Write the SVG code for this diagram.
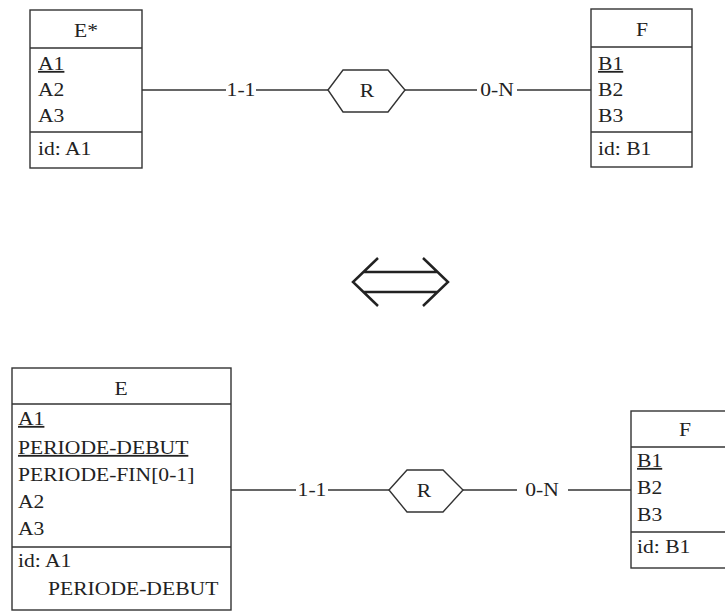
<svg xmlns="http://www.w3.org/2000/svg" width="725" height="611" viewBox="0 0 725 611">
<style>
.box{fill:#fff;stroke:#333;stroke-width:1.4}
.sep{stroke:#333;stroke-width:1.4}
.t{font-family:"Liberation Serif","Times New Roman",serif;font-size:18px;fill:#222}
.c{text-anchor:middle}
.u{text-decoration:underline}
.ln{stroke:#333;stroke-width:1.3;fill:none}
.hex{fill:#fff;stroke:#333;stroke-width:1.4}
</style>
<rect width="725" height="611" fill="#fff"/>
<g id="connectors">
<line class="ln" x1="142" y1="90" x2="226" y2="90"/>
<line class="ln" x1="256" y1="90" x2="328" y2="90"/>
<line class="ln" x1="405" y1="90" x2="477" y2="90"/>
<line class="ln" x1="517" y1="90" x2="591" y2="90"/>
<text class="t c" transform="translate(241,96) scale(1.2 1)">1-1</text>
<text class="t c" transform="translate(497,96) scale(1.2 1)">0-N</text>
<line class="ln" x1="231" y1="490" x2="296" y2="490"/>
<line class="ln" x1="328" y1="490" x2="389" y2="490"/>
<line class="ln" x1="463" y1="490" x2="517" y2="490"/>
<line class="ln" x1="568" y1="490" x2="631" y2="490"/>
<text class="t c" transform="translate(312,496) scale(1.2 1)">1-1</text>
<text class="t c" transform="translate(542,496) scale(1.2 1)">0-N</text>
</g>
<g id="E-star">
<rect class="box" x="30" y="10" width="112" height="158"/>
<line class="sep" x1="30" y1="48" x2="142" y2="48"/>
<line class="sep" x1="30" y1="132" x2="142" y2="132"/>
<text class="t c" transform="translate(86,37) scale(1.2 1)">E*</text>
<text class="t u" transform="translate(38,70) scale(1.2 1)">A1</text>
<text class="t" transform="translate(38,96) scale(1.2 1)">A2</text>
<text class="t" transform="translate(38,122) scale(1.2 1)">A3</text>
<text class="t" transform="translate(38,155) scale(1.2 1)">id: A1</text>
</g>
<g id="R-top">
<polygon class="hex" points="328,90 343,70 388,70 405,90 388,112 343,112"/>
<text class="t c" transform="translate(367,97) scale(1.2 1)">R</text>
</g>
<g id="F-top">
<rect class="box" x="591" y="9" width="101" height="158"/>
<line class="sep" x1="591" y1="47" x2="692" y2="47"/>
<line class="sep" x1="591" y1="132" x2="692" y2="132"/>
<text class="t c" transform="translate(642,36) scale(1.2 1)">F</text>
<text class="t u" transform="translate(598,70) scale(1.2 1)">B1</text>
<text class="t" transform="translate(598,96) scale(1.2 1)">B2</text>
<text class="t" transform="translate(598,122) scale(1.2 1)">B3</text>
<text class="t" transform="translate(598,155) scale(1.2 1)">id: B1</text>
</g>
<g id="equivalence">
<path d="M378,258 L353,282 L378,306 M423,258 L448,282 L423,306 M363,272 L438,272 M363,292 L438,292" fill="none" stroke="#222" stroke-width="2.5" stroke-linejoin="miter"/>
</g>
<g id="E">
<rect class="box" x="12" y="368" width="219" height="242"/>
<line class="sep" x1="12" y1="404" x2="231" y2="404"/>
<line class="sep" x1="12" y1="547" x2="231" y2="547"/>
<text class="t c" transform="translate(121,395) scale(1.2 1)">E</text>
<text class="t u" transform="translate(18,425) scale(1.2 1)">A1</text>
<text class="t u" transform="translate(18,454) scale(1.2 1)">PERIODE-DEBUT</text>
<text class="t" transform="translate(18,481) scale(1.2 1)">PERIODE-FIN[0-1]</text>
<text class="t" transform="translate(18,508) scale(1.2 1)">A2</text>
<text class="t" transform="translate(18,535) scale(1.2 1)">A3</text>
<text class="t" transform="translate(18,567) scale(1.2 1)">id: A1</text>
<text class="t" transform="translate(48,595) scale(1.2 1)">PERIODE-DEBUT</text>
</g>
<g id="R-bottom">
<polygon class="hex" points="389,490 407,470 443,470 463,490 443,512 407,512"/>
<text class="t c" transform="translate(424,497) scale(1.2 1)">R</text>
</g>
<g id="F-bottom">
<rect class="box" x="631" y="411" width="110" height="157"/>
<line class="sep" x1="631" y1="447" x2="741" y2="447"/>
<line class="sep" x1="631" y1="532" x2="741" y2="532"/>
<text class="t c" transform="translate(685,436) scale(1.2 1)">F</text>
<text class="t u" transform="translate(637,467) scale(1.2 1)">B1</text>
<text class="t" transform="translate(637,494) scale(1.2 1)">B2</text>
<text class="t" transform="translate(637,521) scale(1.2 1)">B3</text>
<text class="t" transform="translate(637,553) scale(1.2 1)">id: B1</text>
</g>
</svg>
